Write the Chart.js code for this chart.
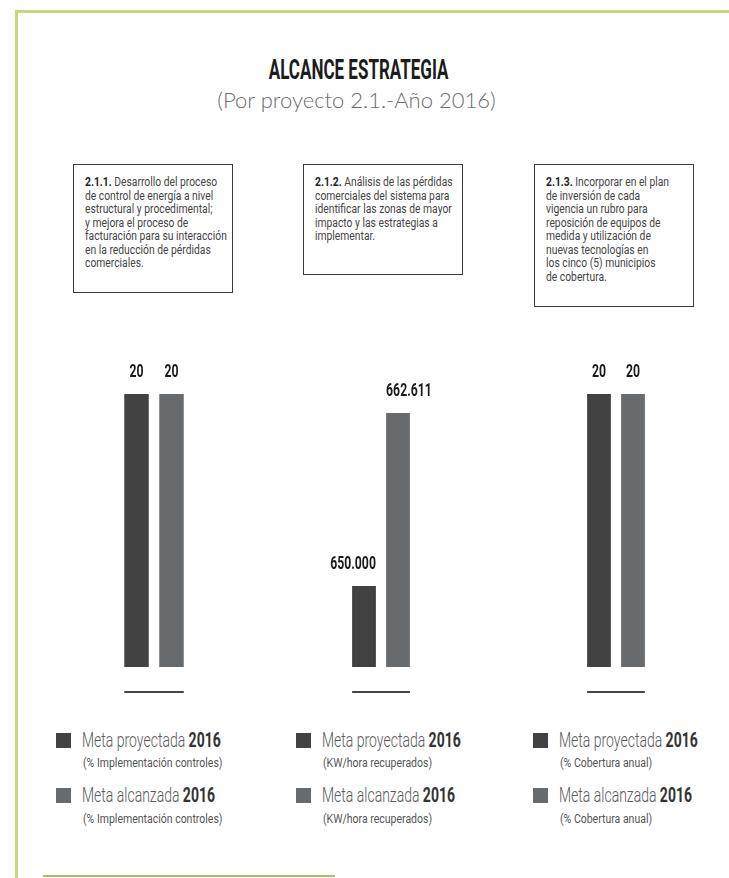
<!DOCTYPE html>
<html lang="es">
<head>
<meta charset="utf-8">
<title>Alcance estrategia</title>
<script src="https://cdn.jsdelivr.net/npm/chart.js@4.4.1/dist/chart.umd.min.js"></script>
<style>
  html, body { margin: 0; padding: 0; background: #fff; }
  body {
    width: 729px; height: 878px; position: relative; overflow: hidden;
    font-family: Roboto, "Noto Sans", sans-serif;
    color: #3b3b3b;
  }
  /* texto angosto: Roboto comprimido en horizontal */
  .narrow { display: inline-block; white-space: nowrap; transform-origin: 0 50%; }
  .frame-top { position: absolute; left: 15px; top: 10px; right: 0; height: 3px; background: #c9d67c; }
  .frame-left { position: absolute; left: 15px; top: 10px; bottom: 0; width: 3px; background: #c9d67c; }
  .frame-foot { position: absolute; left: 43px; top: 875px; width: 292px; height: 2px; background: #a9c060; }
  h1 {
    position: absolute; left: 0; top: 54px; width: 718px; margin: 0;
    text-align: center; font-size: 27px; line-height: 32px; font-weight: bold; color: #1c1c1c;
  }
  h1 .narrow { transform: scaleX(0.63); transform-origin: 50% 50%; }
  .sub {
    position: absolute; left: 0; top: 88px; width: 713px; text-align: center;
    font-family: Lato, "Open Sans", sans-serif; font-weight: 300; font-size: 22px; line-height: 24px; color: #6d6d6d;
  }
  .box {
    position: absolute; top: 164px; width: 160px; box-sizing: border-box;
    border: 1.5px solid #3a3a3a; padding: 10px 0 0 11px;
    font-size: 13.4px; line-height: 13.5px; color: #444;
  }
  .box .narrow { transform: scaleX(0.77); transform-origin: 0 0; }
  .box b { color: #222; }
  .chart { position: absolute; top: 340px; }
  .legend { position: absolute; top: 729px; width: 200px; height: 100px; }
  .lg-row { position: absolute; left: 0; padding-left: 26px; font-size: 20px; line-height: 22px; font-weight: 300; color: #595959; white-space: nowrap; }
  .lg-row .narrow { transform: scaleX(0.7); }
  .lg-row b { color: #333; font-weight: bold; }
  .lg-row i { position: absolute; left: 0; top: 4px; width: 15px; height: 15px; }
  .lg-unit { position: absolute; left: 27px; font-size: 12.5px; line-height: 16px; color: #555; }
  .lg-unit .narrow { transform: scaleX(0.84); }
</style>
</head>
<body>
<div class="frame-top"></div>
<div class="frame-left"></div>
<div class="frame-foot"></div>
<h1><span class="narrow">ALCANCE ESTRATEGIA</span></h1>
<div class="sub">(Por proyecto 2.1.-Año 2016)</div>
<div id="page"></div>

<script>
// Proyectos de la estrategia 2.1
const projects = ['2.1.1.', '2.1.2.', '2.1.3.'];
const descriptions = [
    ['Desarrollo del proceso', 'de control de energía a nivel', 'estructural y procedimental;', 'y mejora el proceso de', 'facturación para su interacción', 'en la reducción de pérdidas', 'comerciales.'],
    ['Análisis de las pérdidas', 'comerciales del sistema para', 'identificar las zonas de mayor', 'impacto y las estrategias a', 'implementar.'],
    ['Incorporar en el plan', 'de inversión de cada', 'vigencia un rubro para', 'reposición de equipos de', 'medida y utilización de', 'nuevas tecnologías en', 'los cinco (5) municipios', 'de cobertura.']
];
const units = ['(% Implementación controles)', '(KW/hora recuperados)', '(% Cobertura anual)'];

// Series
const seriesNames = ['Meta proyectada', 'Meta alcanzada'];
const seriesYear = '2016';
const metaProyectada = [20, 650000, 20];
const metaAlcanzada = [20, 662611, 20];

const seriesColors = ['#424242', '#676b6e'];

// Ubicación de cada panel (área de las barras) y rango del eje y
const panels = [
    { box: 73,  boxH: 129, left: 118.5, width: 70, legend: 56,  min: -1.9,   max: 20,     base: 0,      align: ['center', 'center'] },
    { box: 303, boxH: 111, left: 347,   width: 68, legend: 296, min: 642200, max: 664000, base: 644100, align: ['right', 'left'] },
    { box: 534, boxH: 143, left: 582,   width: 68, legend: 533, min: -1.9,   max: 20,     base: 0,      align: ['center', 'center'] }
];

const fmt = v => v.toLocaleString('de-DE');

// valores encima de cada barra
const valueLabels = {
    id: 'valueLabels',
    afterDatasetsDraw(chart, args, opts) {
        const ctx = chart.ctx;
        chart.data.datasets.forEach((ds, i) => {
            const bar = chart.getDatasetMeta(i).data[0];
            const align = opts.align[i];
            let x = bar.x;
            if (align === 'right') x = bar.x + bar.width / 2;
            if (align === 'left') x = bar.x - bar.width / 2;
            ctx.save();
            ctx.font = 'bold 18px Roboto, sans-serif';
            ctx.fillStyle = '#1a1a1a';
            ctx.textBaseline = 'middle';
            ctx.textAlign = align;
            ctx.translate(x, bar.y - 22);
            ctx.scale(0.68, 1);
            ctx.fillText(fmt(ds.data[0]), 0, 0);
            ctx.restore();
        });
    }
};

// línea corta bajo el par de barras
const baseLine = {
    id: 'baseLine',
    afterDatasetsDraw(chart) {
        const first = chart.getDatasetMeta(0).data[0];
        const last = chart.getDatasetMeta(chart.data.datasets.length - 1).data[0];
        const ctx = chart.ctx;
        const y = chart.chartArea.bottom - 1;
        ctx.save();
        ctx.strokeStyle = '#4a4347';
        ctx.lineWidth = 2;
        ctx.beginPath();
        ctx.moveTo(first.x - first.width / 2, y);
        ctx.lineTo(last.x + last.width / 2, y);
        ctx.stroke();
        ctx.restore();
    }
};

const page = document.getElementById('page');
const PAD = 60, TOP = 340, AREA_TOP = 394, AREA_BOTTOM = 693;

panels.forEach((p, i) => {
    // recuadro con la descripción
    const box = document.createElement('div');
    box.className = 'box';
    box.style.left = p.box + 'px';
    box.style.height = p.boxH + 'px';
    box.innerHTML = '<span class="narrow"><b>' + projects[i] + '</b> ' + descriptions[i].join('<br>') + '</span>';
    page.appendChild(box);

    // gráfico
    const canvas = document.createElement('canvas');
    canvas.className = 'chart';
    canvas.width = p.width + PAD * 2;
    canvas.height = AREA_BOTTOM - TOP + 10;
    canvas.style.left = (p.left - PAD) + 'px';
    page.appendChild(canvas);

    const values = [metaProyectada[i], metaAlcanzada[i]];
    new Chart(canvas, {
        type: 'bar',
        data: {
            labels: [projects[i]],
            datasets: seriesNames.map((name, k) => ({
                label: name,
                data: [values[k]],
                backgroundColor: seriesColors[k],
                base: p.base,
                categoryPercentage: 1,
                barPercentage: 0.7
            }))
        },
        options: {
            responsive: false,
            animation: false,
            layout: { padding: { left: PAD, right: PAD, top: AREA_TOP - TOP, bottom: 10 } },
            plugins: {
                legend: { display: false },
                tooltip: { enabled: false },
                valueLabels: { align: p.align }
            },
            scales: {
                x: { display: false },
                y: { display: false, min: p.min, max: p.max }
            }
        },
        plugins: [valueLabels, baseLine]
    });

    // leyenda
    const legend = document.createElement('div');
    legend.className = 'legend';
    legend.style.left = p.legend + 'px';
    legend.innerHTML = seriesNames.map((name, k) =>
        '<div class="lg-row" style="top:' + (k * 55) + 'px"><i style="background:' + seriesColors[k] + '"></i>' +
        '<span class="narrow">' + name + ' <b>' + seriesYear + '</b></span></div>' +
        '<div class="lg-unit" style="top:' + (26 + k * 56) + 'px"><span class="narrow">' + units[i] + '</span></div>'
    ).join('');
    page.appendChild(legend);
});
</script>
</body>
</html>
